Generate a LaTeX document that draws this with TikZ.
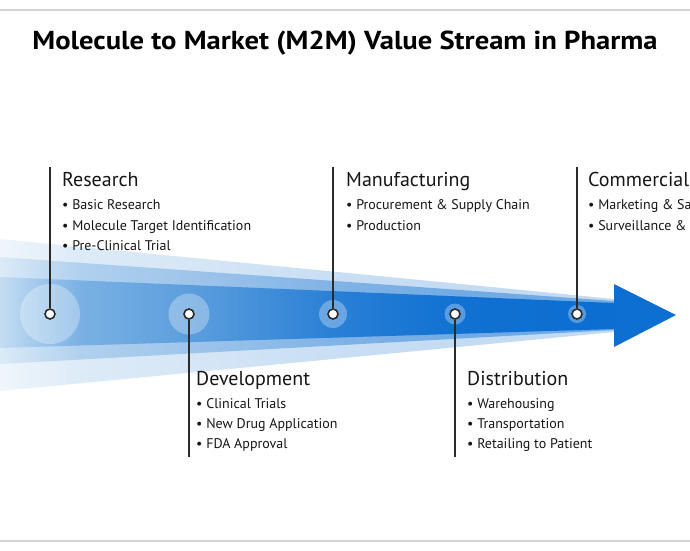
\documentclass[tikz,border=0pt]{standalone}
\usepackage{fontspec}
\setmainfont{PT Sans}
\definecolor{lineC}{HTML}{2B2B2B}
\definecolor{textC}{HTML}{161616}
\definecolor{ruleC}{HTML}{D4D4D4}
\definecolor{bA}{HTML}{C4DDF3}
\definecolor{bA2}{HTML}{7AB1E4}
\definecolor{bB}{HTML}{5C9EDD}
\definecolor{bC}{HTML}{2A80D6}
\definecolor{bD}{HTML}{1171D2}
\definecolor{bE}{HTML}{0B6ED1}
\definecolor{headC}{HTML}{0E6FD2}
\pgfdeclarehorizontalshading{bandshade}{100bp}{color(0bp)=(bA); color(25bp)=(bA); color(31.5bp)=(bA2); color(40.4bp)=(bB); color(52bp)=(bC); color(62bp)=(bD); color(75bp)=(bE); color(100bp)=(bE)}
\begin{document}
\begin{tikzpicture}[x=1pt,y=-1pt,
  halo/.style={circle, fill=white, fill opacity=0.3, draw=none, inner sep=0pt, minimum size=#1},
  dot/.style={circle, fill=white, draw=lineC, line width=1.6pt, inner sep=0pt, minimum size=10pt},
  stem/.style={draw=lineC, line width=1.4pt},
  head/.style={anchor=base west, font=\fontsize{20}{24}\selectfont, text=textC, inner sep=0pt},
  item/.style={anchor=base west, font=\fontsize{14}{17}\selectfont, text=textC, inner sep=0pt},
  title/.style={anchor=base, font=\bfseries\fontsize{26}{30}\selectfont, text=black, inner sep=0pt},
  rulel/.style={draw=ruleC, line width=1.5pt}
]
\useasboundingbox (0,0) rectangle (690,550);
\fill[white] (0,0) rectangle (690,550);
\begin{scope}
\clip (0,0) rectangle (690,550);
% rules
\coordinate (tl) at (0,10); \coordinate (tr) at (690,10);
\coordinate (bl) at (0,541); \coordinate (br) at (690,541);
\draw[rulel] (tl) -- (tr);
\draw[rulel] (bl) -- (br);
% title
\node[title] (ttl) at (345,49) {\scalebox{1.1}[1]{Molecule to Market (M2M) Value Stream in Pharma}};
% bands
\shade[shading=bandshade, opacity=0.25] (0,239) -- (614,299) -- (614,332) -- (0,391) -- cycle;
\shade[shading=bandshade, opacity=0.45] (0,257) -- (614,301) -- (614,330) -- (0,364) -- cycle;
\shade[shading=bandshade] (0,277) -- (614,303) -- (614,329) -- (0,348) -- cycle;
\fill[headC] (614,284) -- (676,315) -- (614,347) -- cycle;
% halos
\node[halo=60pt] (h1) at (50,314) {};
\node[halo=41pt] (h2) at (189,314) {};
\node[halo=28pt] (h3) at (333,314) {};
\node[halo=21pt] (h4) at (455,314) {};
\node[halo=18pt] (h5) at (577,314) {};
% stems
\coordinate (s1) at (50,167);
\coordinate (s2) at (189,457);
\coordinate (s3) at (333,167);
\coordinate (s4) at (455,457);
\coordinate (s5) at (577,167);
\node[dot] (d1) at (50,314) {};
\node[dot] (d2) at (189,314) {};
\node[dot] (d3) at (333,314) {};
\node[dot] (d4) at (455,314) {};
\node[dot] (d5) at (577,314) {};
\draw[stem] (s1) -- (d1);
\draw[stem] (s2) -- (d2);
\draw[stem] (s3) -- (d3);
\draw[stem] (s4) -- (d4);
\draw[stem] (s5) -- (d5);
% texts
\node[head] (rh) at (62,186) {Research};
\node[item] (r1) at (62,209) {• Basic Research};
\node[item] (r2) at (62,230) {• Molecule Target Identification};
\node[item] (r3) at (62,250) {• Pre-Clinical Trial};
\node[head] (mh) at (346,186) {Manufacturing};
\node[item] (m1) at (346,209) {• Procurement \& Supply Chain};
\node[item] (m2) at (346,230) {• Production};
\node[head] (ch) at (588,186) {Commercial};
\node[item] (c1) at (588,209) {• Marketing \& Sa};
\node[item] (c2) at (588,230) {• Surveillance \&};
\node[head] (dh) at (196,385) {Development};
\node[item] (d1a) at (196,408) {• Clinical Trials};
\node[item] (d2a) at (196,428) {• New Drug Application};
\node[item] (d3a) at (196,448) {• FDA Approval};
\node[head] (th) at (467,385) {Distribution};
\node[item] (t1) at (467,408) {• Warehousing};
\node[item] (t2) at (467,428) {• Transportation};
\node[item] (t3) at (467,448) {• Retailing to Patient};
\end{scope}
\end{tikzpicture}
\end{document}
